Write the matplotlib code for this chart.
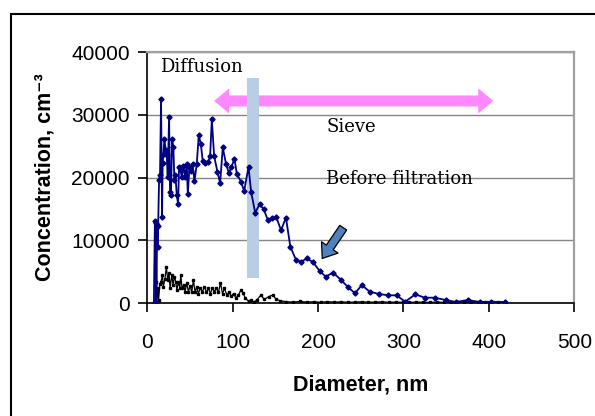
import numpy as np
import matplotlib
matplotlib.use("Agg")
import matplotlib.pyplot as plt
from matplotlib.patches import Rectangle, Polygon, FancyArrowPatch

# before filtration (blue) - diameter [nm], concentration [cm^-3]
before_d = [8, 9.2, 10.2, 11, 11.8, 12.3, 13, 14.1, 15.2, 16.4, 17.6, 18.3, 19.3,
            20.3, 21.8, 23, 24.2, 25.8, 26.9, 28, 29.3, 30.8, 32, 33.2, 34.8,
            36.3, 37.5, 38.7, 40.6, 42.6, 44.5, 46.5, 47.7, 49.6, 51.2, 53.2,
            55.5, 58.2, 60.5, 62.9, 65.2, 67.9, 71.1, 73.8, 75.8, 78.5, 82.4,
            85.5, 88.6, 92.5, 95.7, 98.8, 102.3, 105, 110.1, 113.6, 118.7,
            121.8, 126.5, 131.6, 136.3, 141.4, 146.1, 151.2, 156.7, 162.5,
            167.6, 174.3, 180.5, 187.2, 194.2, 202, 209, 217.6, 226.7, 234.6,
            243.3, 251.2, 260.3, 271, 282, 292, 301.9, 313.8, 324.9, 336.3,
            349.4, 361.3, 375.2, 389, 402.9, 418.7]
before_c = [0, 13000, 12800, 0, 12500, 8900, 12300, 19600, 20400, 32500, 13750,
            22300, 23800, 26200, 24400, 23600, 20100, 29600, 17700, 17200, 26100,
            24900, 19600, 20400, 17200, 15800, 21700, 21500, 20100, 21800, 20100,
            22100, 17300, 21700, 21000, 22200, 19400, 22200, 26700, 25400, 22600,
            22300, 22400, 23400, 29300, 23400, 20900, 19100, 24800, 22100, 20700,
            21700, 23000, 20600, 19300, 17800, 21700, 17700, 14400, 15700, 15000,
            13200, 13500, 13700, 11600, 13600, 9000, 6850, 6600, 7100, 6500, 5100,
            4200, 4860, 3700, 2600, 1540, 2870, 1820, 1450, 1230, 1230, 200, 1380,
            850, 850, 480, 160, 480, 160, 200, 160]

# after filtration (black)
after_d = [8, 9.4, 10.2, 11, 12.5, 13.5, 15, 16.4, 18, 19.1, 21, 22.6, 24.2, 25.8,
           27, 29, 30.5, 32, 33.6, 34.8, 36.7, 38.3, 39.5, 41, 43, 44.5, 46.5,
           48.4, 50.4, 52.3, 54.3, 56.2, 58.2, 60.1, 62.1, 64.8, 67.1, 69.5,
           71.8, 74.2, 76.5, 78.9, 81.2, 83.6, 85.9, 88.3, 90.6, 93.4, 96.1,
           98.4, 101.2, 103.9, 107, 109.8, 112.1, 115, 118.7, 121.8, 124.6,
           128.5, 133.2, 137.1, 142.2, 146.9, 151.2, 155.9, 163, 171, 179, 187,
           195, 203, 211, 219, 227, 235, 243, 251, 259, 267, 275, 283, 291, 299,
           307, 315, 323, 331, 339, 347, 355, 363, 371, 379, 387, 395, 403, 411,
           419]
after_c = [0, 0, 3300, 0, 2340, 500, 3000, 3400, 4460, 2600, 3900, 5790, 3670,
           4730, 2340, 4460, 2870, 4200, 3400, 2070, 3400, 2340, 4460, 2340, 2870,
           1800, 3140, 1800, 2760, 1700, 3670, 1700, 2600, 1500, 2340, 1800, 2600,
           1700, 2340, 1500, 2440, 1800, 2340, 1700, 3200, 1500, 2340, 1270, 1800,
           1060, 1500, 800, 1270, 2070, 1640, 800, 260, 530, 100, 480, 1280, 580,
           1000, 1280, 580, 370, 200, 150, 250, 150, 200, 120, 200, 150, 180, 120,
           150, 200, 120, 150, 180, 120, 150, 120, 100, 150, 120, 100, 150, 100,
           120, 100, 150, 100, 120, 100, 100, 120, 100]

x_ticks = [0, 100, 200, 300, 400, 500]
y_ticks = [0, 10000, 20000, 30000, 40000]

# annotation geometry (data units)
sieve_x = (78.5, 405)
sieve_y = 32200
band_x = (116.7, 131.4)
band_y = (4000, 35800)
pointer_tail = (229.5, 12000)
pointer_tip = (205, 7100)

sans = ["Liberation Sans", "DejaVu Sans"]
serif = "DejaVu Serif"

fig = plt.figure(figsize=(5.95, 4.16), dpi=100)
ax = fig.add_axes([0.2471, 0.2716, 0.7184, 0.6034])

ax.set_xlim(0, 500)
ax.set_ylim(0, 40000)
ax.set_xticks(x_ticks)
ax.set_yticks(y_ticks)
ax.grid(axis="y", color="#868686", lw=1.0)
ax.set_axisbelow(True)

for s in ["top", "right"]:
    ax.spines[s].set_color("#a0a0a0")
    ax.spines[s].set_linewidth(1.6)
for s in ["left", "bottom"]:
    ax.spines[s].set_color("black")
    ax.spines[s].set_linewidth(1.2)

ax.tick_params(axis="x", direction="out", length=6.5, width=1.2, pad=15,
               labelsize=15)
ax.tick_params(axis="y", direction="out", length=6.5, width=1.2, pad=6,
               labelsize=15)
for lab in ax.get_xticklabels() + ax.get_yticklabels():
    lab.set_fontfamily(sans)

ax.set_xlabel("Diameter, nm", fontfamily=sans, fontsize=15.5,
              fontweight="bold", labelpad=16)
ax.set_ylabel("Concentration, cm\u207b\u00b3", fontfamily=sans,
              fontsize=15.5, fontweight="bold", labelpad=11)

# pink double arrow (sieve range)
px_w = 500 / 427.5          # nm per pixel
px_h = 40000 / 251.0        # concentration per pixel
half_shaft = 5.5 * px_h
half_head = 12.5 * px_h
head_len = 15 * px_w
x0, x1 = sieve_x
arrow = Polygon([
    (x0, sieve_y), (x0 + head_len, sieve_y + half_head),
    (x0 + head_len, sieve_y + half_shaft), (x1 - head_len, sieve_y + half_shaft),
    (x1 - head_len, sieve_y + half_head), (x1, sieve_y),
    (x1 - head_len, sieve_y - half_head), (x1 - head_len, sieve_y - half_shaft),
    (x0 + head_len, sieve_y - half_shaft), (x0 + head_len, sieve_y - half_head),
], closed=True, facecolor="#ff88ff", edgecolor="none", zorder=2)
ax.add_patch(arrow)

# light blue band (diffusion / sieve boundary)
ax.add_patch(Rectangle((band_x[0], band_y[0]), band_x[1] - band_x[0],
                       band_y[1] - band_y[0], facecolor="#b9cde5",
                       edgecolor="none", zorder=2.5))

ax.plot(after_d, after_c, color="black", lw=0.9, marker="s", ms=2,
        zorder=3)
ax.plot(before_d, before_c, color="#000080", lw=1.3, marker="D", ms=2.6,
        zorder=4)

ax.add_patch(FancyArrowPatch(pointer_tail, pointer_tip,
                             arrowstyle="simple,head_length=0.8,head_width=1.2,tail_width=0.5",
                             mutation_scale=12, facecolor="#4f81bd",
                             edgecolor="black", lw=0.9, shrinkA=0, shrinkB=0,
                             zorder=5))

ax.text(15.5, 36800, "Diffusion", fontfamily=serif, fontsize=13,
        va="baseline", ha="left")
ax.text(209.6, 27300, "Sieve", fontfamily=serif, fontsize=13,
        va="baseline", ha="left")
ax.text(209.6, 19000, "Before filtration", fontfamily=serif, fontsize=13,
        va="baseline", ha="left")

# outer chart border
fig.add_artist(Rectangle((11 / 595, -0.2), 1.2, 1 - 14 / 416 + 0.2,
                         transform=fig.transFigure, fill=False,
                         edgecolor="black", lw=1.5, clip_on=False))

fig.savefig("out.png", dpi=100)
